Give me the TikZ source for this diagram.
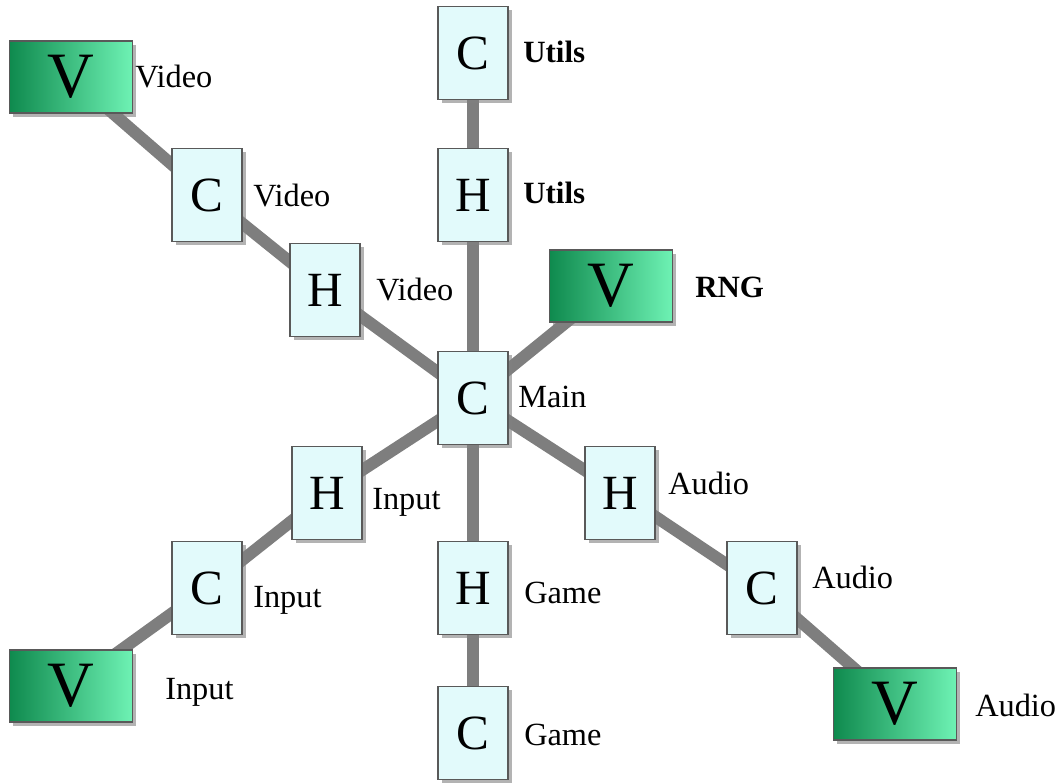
\documentclass[tikz,border=0pt]{standalone}
\usepackage{fontspec}
\setmainfont{Liberation Serif}
\usetikzlibrary{positioning,shadows,backgrounds}

\definecolor{unitfill}{HTML}{E2FAFB}
\definecolor{vdark}{HTML}{0F8A4E}
\definecolor{vlight}{HTML}{6EF2B4}
\definecolor{pipe}{HTML}{7E7E7E}

\begin{document}
\begin{tikzpicture}[
  x=0.025cm, y=-0.025cm,
  unit/.style={draw=black!65, line width=1.2pt, fill=unitfill, minimum width=1.75cm, minimum height=2.325cm, inner sep=0pt, font=\fontsize{35}{35}\selectfont, drop shadow={shadow xshift=2.5pt, shadow yshift=-2.5pt, opacity=0.6}},
  vmod/.style={draw=black!65, line width=1.2pt, left color=vdark, right color=vlight, minimum width=3.075cm, minimum height=1.8cm, inner sep=0pt, font=\fontsize{46}{46}\selectfont, drop shadow={shadow xshift=2.5pt, shadow yshift=-2.5pt, opacity=0.6}},
  tag/.style={anchor=west, inner sep=0pt, font=\fontsize{23}{23}\selectfont},
  btag/.style={anchor=west, inner sep=0pt, font=\fontsize{22}{22}\selectfont\bfseries},
  link/.style={draw=pipe, line width=8.5pt}
]
  \useasboundingbox (0,0) rectangle (1061,783);

  % modules
  \node[unit] (cutl) at (473,53) {C};
  \node[unit] (hutl) at (473,195) {H};
  \node[vmod] (vvid) at (71,77) {V};
  \node[unit] (cvid) at (207,195) {C};
  \node[unit] (hvid) at (325,290) {H};
  \node[vmod] (vrng) at (611,286) {V};
  \node[unit] (cmain) at (473,398) {C};
  \node[unit] (hinp) at (327,493) {H};
  \node[unit] (cinp) at (207,588) {C};
  \node[vmod] (vinp) at (71,686) {V};
  \node[unit] (hgam) at (473,588) {H};
  \node[unit] (cgam) at (473,733) {C};
  \node[unit] (haud) at (620,493) {H};
  \node[unit] (caud) at (762,588) {C};
  \node[vmod] (vaud) at (895,704) {V};

  % names
  \node[btag] (tcutl) at (523,52) {Utils};
  \node[btag] (thutl) at (523,193) {Utils};
  \node[tag] (tvvid) at (135,77) {Video};
  \node[tag] (tcvid) at (253,196) {Video};
  \node[tag] (thvid) at (376,290) {Video};
  \node[btag] (tvrng) at (695,287) {RNG};
  \node[tag] (tcmain) at (518,397) {Main};
  \node[tag] (thinp) at (372,502) {Input};
  \node[tag] (tcinp) at (253,600) {Input};
  \node[tag] (tvinp) at (165,692) {Input};
  \node[tag] (thgam) at (524,593) {Game};
  \node[tag] (tcgam) at (524,735) {Game};
  \node[tag] (thaud) at (668,483) {Audio};
  \node[tag] (tcaud) at (812,577) {Audio};
  \node[tag] (tvaud) at (975,705) {Audio};

  \begin{scope}[on background layer]
    \draw[link] (cutl.center) -- (hutl.center) -- (cmain.center);
    \draw[link] (vvid.center) -- (cvid.center) -- (hvid.center) -- (cmain.center);
    \draw[link] (vrng.center) -- (cmain.center);
    \draw[link] (cmain.center) -- (hinp.center) -- (cinp.center) -- (vinp.center);
    \draw[link] (cmain.center) -- (hgam.center) -- (cgam.center);
    \draw[link] (cmain.center) -- (haud.center) -- (caud.center) -- (vaud.center);
  \end{scope}
\end{tikzpicture}
\end{document}
